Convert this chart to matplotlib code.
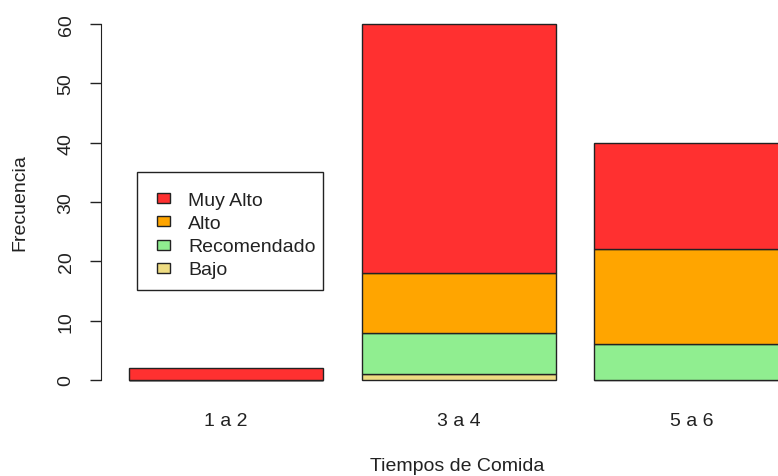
import matplotlib
matplotlib.use("Agg")
import matplotlib.pyplot as plt
from matplotlib.patches import Rectangle
import numpy as np

plt.rcParams['font.family'] = ['Liberation Sans', 'DejaVu Sans']

categories = ["1 a 2", "3 a 4", "5 a 6"]
levels = ["Bajo", "Recomendado", "Alto", "Muy Alto"]
bajo = [0, 1, 0]
recomendado = [0, 7, 6]
alto = [0, 10, 16]
muy_alto = [2, 42, 18]
colors = {"Bajo": "#EEDC82", "Recomendado": "#90EE90",
          "Alto": "#FFA500", "Muy Alto": "#FF3030"}

FS = 14
INK = "#222222"

W, H = 778, 477
fig = plt.figure(figsize=(W / 100, H / 100), dpi=100)

# plot region geometry (pixel based), bars of width 1 with 0.2 spacing
x_axis_px = 101
px_per_unit = 194.0
x0_px = 90.0
xmin = (x_axis_px - x0_px) / px_per_unit
xmax = (W - x0_px) / px_per_unit
y0_px, y60_px = 381, 25
ppu_y = (y0_px - y60_px) / 60.0
ylo, yhi = -2.4, 62.4
bottom_px = y0_px + 2.4 * ppu_y
top_px = y60_px - 2.4 * ppu_y
ax = fig.add_axes([x_axis_px / W, 1 - bottom_px / H,
                   1 - x_axis_px / W, (bottom_px - top_px) / H])
ax.set_xlim(xmin, xmax)
ax.set_ylim(ylo, yhi)

centers = 0.7 + 1.2 * np.arange(len(categories))
series = {"Bajo": bajo, "Recomendado": recomendado, "Alto": alto, "Muy Alto": muy_alto}
base = np.zeros(len(categories))
for lvl in levels:
    vals = np.array(series[lvl], dtype=float)
    ax.bar(centers, vals, width=1.0, bottom=base, color=colors[lvl],
           edgecolor=INK, linewidth=1.0)
    base += vals

for s in ["top", "right", "bottom"]:
    ax.spines[s].set_visible(False)
ax.spines["left"].set_bounds(0, 60)
ax.spines["left"].set_color(INK)
ax.set_yticks(np.arange(0, 61, 10))
ax.tick_params(axis="y", length=8, width=1, color=INK, pad=11, labelsize=FS,
               labelcolor=INK)
for lab in ax.get_yticklabels():
    lab.set_rotation(90)
    lab.set_va("center")
ax.set_xticks(centers)
ax.set_xticklabels(categories)
ax.tick_params(axis="x", length=0, pad=13, labelsize=FS, labelcolor=INK)

fig.text(457 / W, 1 - 467 / H, "Tiempos de Comida", ha="center", va="center",
         fontsize=FS, color=INK)
fig.text(20 / W, 1 - 203 / H, "Frecuencia", ha="center", va="center",
         rotation=90, fontsize=FS, color=INK)

# legend box drawn in figure pixel coordinates (y measured from the top)
def fx(px):
    return px / W

def fy(py):
    return 1 - py / H

legend_order = ["Muy Alto", "Alto", "Recomendado", "Bajo"]
box_l, box_t, box_r, box_b = 137, 173, 323, 291
fig.patches.append(Rectangle((fx(box_l), fy(box_b)), fx(box_r) - fx(box_l),
                             fy(box_t) - fy(box_b), transform=fig.transFigure,
                             facecolor="white", edgecolor=INK, linewidth=1.0, zorder=5))
row_y = 199.0
row_step = 23.3
for i, name in enumerate(legend_order):
    yc = row_y + i * row_step
    fig.patches.append(Rectangle((fx(157), fy(yc + 5)), fx(170) - fx(157), fy(yc - 5) - fy(yc + 5),
                                 transform=fig.transFigure, facecolor=colors[name],
                                 edgecolor=INK, linewidth=1.0, zorder=6))
    fig.text(fx(188), fy(yc), name, ha="left", va="center_baseline", fontsize=FS,
             color=INK, zorder=7)

fig.savefig("out.png", dpi=100)
